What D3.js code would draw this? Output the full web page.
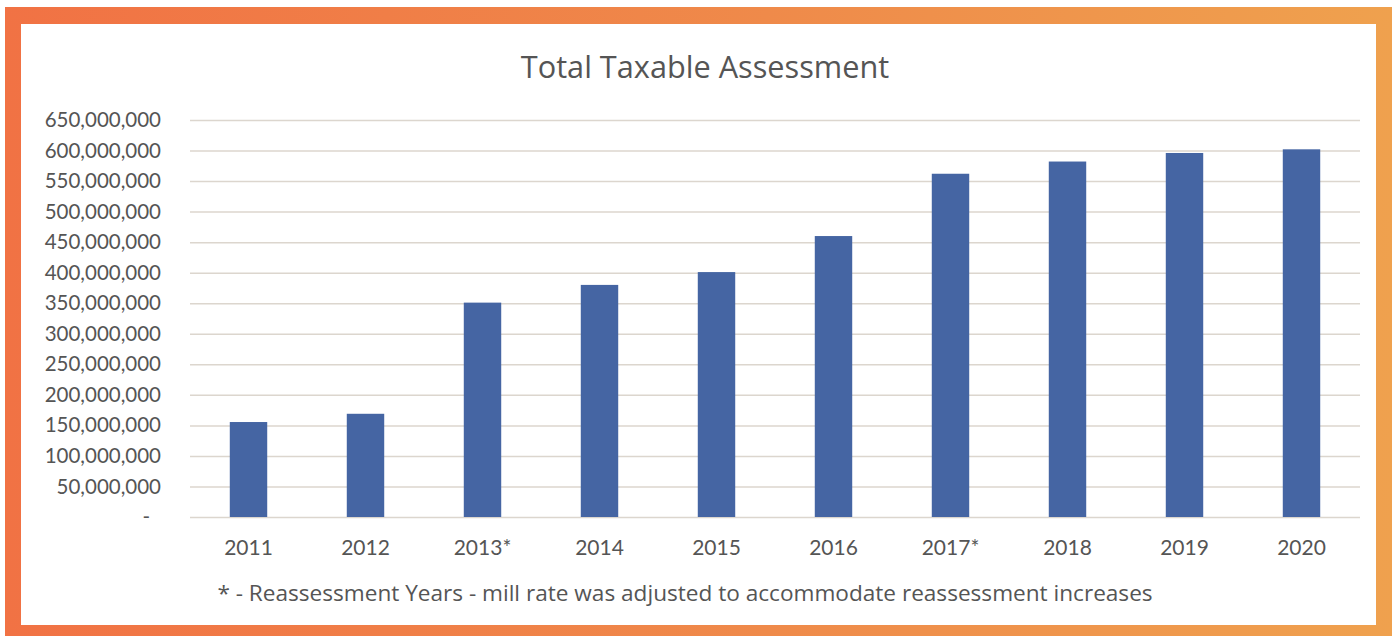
<!DOCTYPE html>
<html>
<head>
<meta charset="utf-8">
<script src="https://cdn.jsdelivr.net/npm/d3@7"></script>
<style>
  html, body { margin: 0; padding: 0; background: #ffffff; }
  svg { display: block; }
</style>
</head>
<body>
<svg id="chart" width="1397" height="637"></svg>
<script>
// Total taxable assessment by year
const years = ["2011", "2012", "2013*", "2014", "2015", "2016", "2017*", "2018", "2019", "2020"];
const assessment = [155500000, 169000000, 351000000, 380000000, 401000000, 460000000, 562000000, 582000000, 596000000, 602000000];
const yTicks = [0, 50000000, 100000000, 150000000, 200000000, 250000000, 300000000, 350000000, 400000000, 450000000, 500000000, 550000000, 600000000, 650000000];
const titleText = "Total Taxable Assessment";
const noteText = "* - Reassessment Years - mill rate was adjusted to accommodate reassessment increases";

const data = years.map((y, i) => ({ year: y, value: assessment[i] }));

const svg = d3.select("#chart");

// Orange gradient frame
const defs = svg.append("defs");
const grad = defs.append("linearGradient").attr("id", "frameGrad")
  .attr("x1", "0%").attr("x2", "100%").attr("y1", "0%").attr("y2", "0%");
grad.append("stop").attr("offset", "0%").attr("stop-color", "#F17244");
grad.append("stop").attr("offset", "55%").attr("stop-color", "#EF8A4A");
grad.append("stop").attr("offset", "100%").attr("stop-color", "#EFA14E");

svg.append("rect").attr("x", 5).attr("y", 7).attr("width", 1387).attr("height", 629)
  .attr("fill", "url(#frameGrad)");
svg.append("rect").attr("x", 21).attr("y", 24).attr("width", 1355).attr("height", 601)
  .attr("fill", "#ffffff");

// Plot area
const plot = { left: 190, right: 1360, top: 120, bottom: 517 };

const x = d3.scaleBand()
  .domain(years)
  .range([plot.left, plot.right])
  .paddingInner(0.68)
  .paddingOuter(0.34);

const y = d3.scaleLinear()
  .domain([0, 650000000])
  .range([plot.bottom, plot.top]);

// Gridlines
const grid = svg.append("g").attr("transform", `translate(${plot.left},0)`)
  .call(d3.axisLeft(y).tickValues(yTicks).tickSize(-(plot.right - plot.left)).tickFormat(""));
grid.select(".domain").remove();
grid.selectAll(".tick line").attr("stroke", "#DCD6CE").attr("stroke-width", 1.5);

// Y axis labels
const fmt = d3.format(",");
const yAxis = svg.append("g").attr("transform", `translate(161,0)`)
  .call(d3.axisLeft(y).tickValues(yTicks).tickSize(0).tickPadding(0)
    .tickFormat(d => d === 0 ? "-" : fmt(d)));
yAxis.select(".domain").remove();
yAxis.selectAll(".tick text")
  .style("font-family", "Lato, sans-serif")
  .style("font-size", "20.5px")
  .attr("fill", "#555555")
  .attr("dx", d => d === 0 ? -11 : 0);

// Bars
svg.append("g").selectAll("rect")
  .data(data)
  .join("rect")
  .attr("x", d => x(d.year))
  .attr("width", x.bandwidth())
  .attr("y", d => y(d.value))
  .attr("height", d => y(0) - y(d.value))
  .attr("fill", "#4565A3");

// X axis labels
const xAxis = svg.append("g").attr("transform", `translate(0,${plot.bottom})`)
  .call(d3.axisBottom(x).tickSize(0).tickPadding(23));
xAxis.select(".domain").remove();
xAxis.selectAll(".tick text")
  .style("font-family", "Lato, sans-serif")
  .style("font-size", "21px")
  .attr("fill", "#555555");

// Title
svg.append("text")
  .attr("x", 705).attr("y", 78)
  .attr("text-anchor", "middle")
  .style("font-family", "'Open Sans', sans-serif")
  .style("font-size", "30.7px")
  .attr("fill", "#555555")
  .text(titleText);

// Footnote
svg.append("text")
  .attr("x", 685).attr("y", 601)
  .attr("text-anchor", "middle")
  .style("font-family", "'Open Sans', sans-serif")
  .style("font-size", "22.6px")
  .attr("fill", "#555555")
  .text(noteText);
</script>
</body>
</html>
